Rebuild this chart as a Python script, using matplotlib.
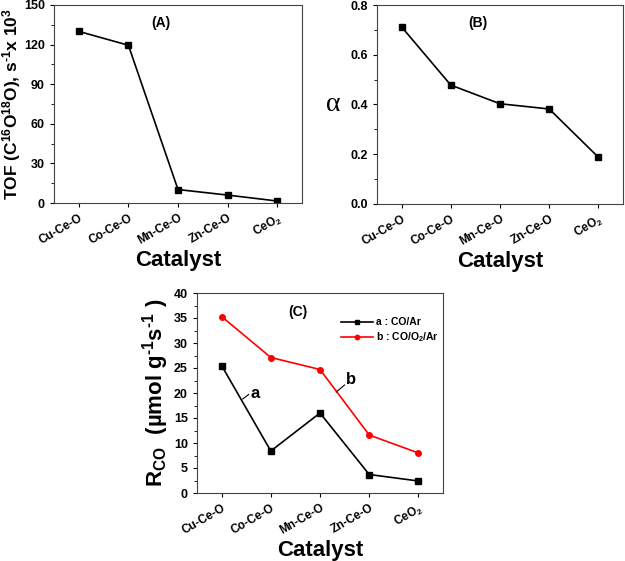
import numpy as np
import matplotlib.pyplot as plt
from matplotlib.ticker import MultipleLocator, AutoMinorLocator

plt.rcParams['font.family'] = ['Liberation Sans', 'DejaVu Sans']
plt.rcParams['font.weight'] = 'bold'
plt.rcParams['mathtext.fontset'] = 'custom'
plt.rcParams['mathtext.rm'] = 'Liberation Sans:bold'
plt.rcParams['mathtext.bf'] = 'Liberation Sans:bold'
plt.rcParams['mathtext.it'] = 'Liberation Sans:bold'
plt.rcParams['mathtext.default'] = 'bf'

catalysts = ['Cu-Ce-O', 'Co-Ce-O', 'Mn-Ce-O', 'Zn-Ce-O', 'CeO$_2$']
tof = [130, 119.5, 10.2, 6.0, 1.5]
alpha = [0.712, 0.478, 0.403, 0.382, 0.188]
rco_a = [25.5, 8.4, 16.0, 3.7, 2.4]
rco_b = [35.3, 27.1, 24.7, 11.6, 8.0]

fig = plt.figure(figsize=(6.25, 5.61), dpi=100)
W, H = 625, 561


def make_ax(left, top, right, bottom):
    return fig.add_axes([left / W, 1 - bottom / H, (right - left) / W, (bottom - top) / H])


def style(ax):
    x = np.arange(len(catalysts))
    ax.set_xlim(-0.5, 4.5)
    ax.set_xticks(x)
    ax.set_xticklabels(catalysts, rotation=30, ha='right', rotation_mode='anchor', fontsize=8.5)
    ax.yaxis.set_minor_locator(AutoMinorLocator(2))
    ax.tick_params(axis='y', labelsize=9, length=3)
    ax.tick_params(axis='x', length=3)
    ax.tick_params(which='minor', length=2)
    ax.set_xlabel('Catalyst', fontsize=16, fontweight='bold', labelpad=2)
    for s in ax.spines.values():
        s.set_linewidth(0.8)
        s.set_color('#444444')


x = np.arange(len(catalysts))

# (A)
ax1 = make_ax(54, 5, 302, 203)
ax1.plot(x, tof, 'k-s', lw=1.2, ms=4)
ax1.set_ylim(0, 150)
ax1.yaxis.set_major_locator(MultipleLocator(30))
style(ax1)
ax1.set_ylabel(r'TOF (C$^{16}$O$^{18}$O), s$^{\text{-}1}$x 10$^3$', fontsize=12.5,
               fontweight='bold', labelpad=1)
ax1.text(0.43, 0.91, '(A)', transform=ax1.transAxes, ha='center', va='center', fontsize=10)

# (B)
ax2 = make_ax(377, 5, 623, 204)
ax2.plot(x, alpha, 'k-s', lw=1.2, ms=4)
ax2.set_ylim(0, 0.8)
ax2.yaxis.set_major_locator(MultipleLocator(0.2))
style(ax2)
ax2.set_ylabel('α', fontsize=20, rotation=0, labelpad=12, va='center',
               family='Liberation Serif', fontweight='normal')
ax2.text(0.41, 0.91, '(B)', transform=ax2.transAxes, ha='center', va='center', fontsize=10)

# (C)
ax3 = make_ax(197, 293, 443, 493)
ax3.plot(x, rco_a, 'k-s', lw=1.2, ms=4, label='a : CO/Ar')
ax3.plot(x, rco_b, '-o', color='red', lw=1.2, ms=4, label='b : CO/O$_2$/Ar')
ax3.set_ylim(0, 40)
ax3.yaxis.set_major_locator(MultipleLocator(5))
style(ax3)
ax3.set_ylabel(r'R$_{CO}$  (µmol g$^{\text{-}1}$s$^{\text{-}1}$ )', fontsize=16,
               fontweight='bold', labelpad=2)
ax3.text(0.41, 0.905, '(C)', transform=ax3.transAxes, ha='center', va='center', fontsize=10)
ax3.legend(loc='upper left', bbox_to_anchor=(0.57, 0.9), frameon=False, fontsize=7.5,
           handlelength=3, handletextpad=0.3, labelspacing=0.3, borderaxespad=0,
           markerscale=0.8)
ax3.plot([0.43, 0.55], [18.8, 19.7], 'k-', lw=0.8)
ax3.text(0.58, 20.0, 'a', fontsize=12, va='center')
ax3.plot([2.33, 2.5], [20.2, 21.6], 'k-', lw=0.8)
ax3.text(2.52, 22.6, 'b', fontsize=12, va='center')

fig.savefig('out.png', dpi=100)
